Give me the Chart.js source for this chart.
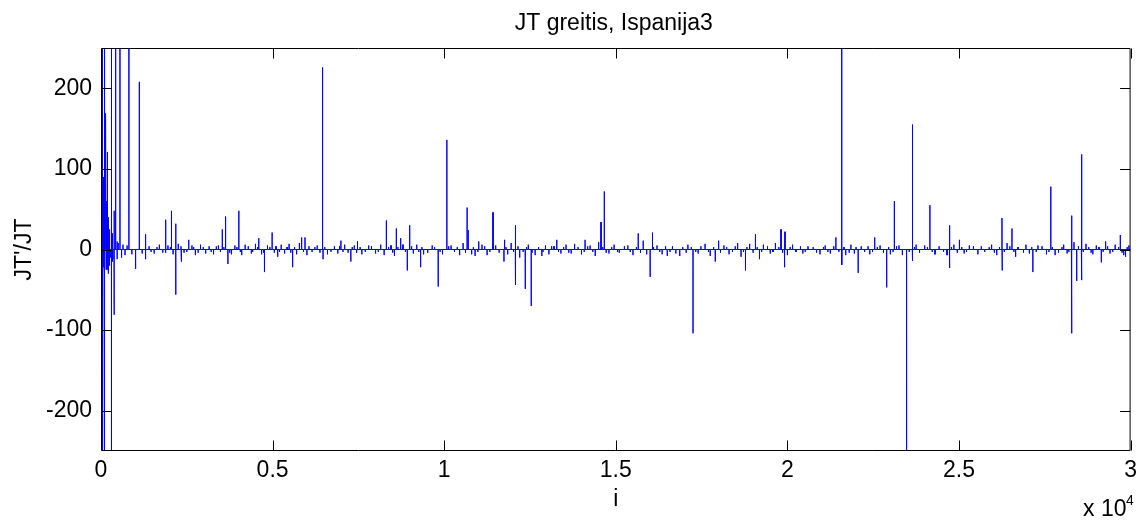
<!DOCTYPE html>
<html>
<head>
<meta charset="utf-8">
<script src="https://cdn.jsdelivr.net/npm/chart.js@4.4.0/dist/chart.umd.min.js"></script>
<style>
  html, body { margin: 0; padding: 0; background: #fff; }
  canvas { display: block; }
</style>
</head>
<body>
<canvas id="chart" width="1143" height="521"></canvas>
<script>
// tick positions (x is in units of i, labels shown as x 10^4)
const xTicks = [0, 5000, 10000, 15000, 20000, 25000, 30000];
const yTicks = [-200, -100, 0, 100, 200];

// main spikes: index i and value JT'/JT
// (values of +-400 run past the axis limits and get clipped, as in the original)
const spikeIdx = [
  0, 15, 30, 40, 41, 55, 80, 95, 107, 108,
  125, 145, 146, 165, 183, 184, 205, 206, 235, 236,
  260, 261, 305, 306, 330, 331, 380, 387, 427, 470,
  471, 500, 552, 600, 640, 700, 760, 813, 900, 1008,
  1112, 1120, 1200, 1298, 1300, 1888, 2053, 2178, 2180, 2343,
  2556, 3534, 3630, 3698, 4016, 4597, 4763, 4986, 5149, 5584,
  5846, 5944, 6456, 6470, 6990, 7280, 7473, 8315, 8605, 8732,
  8925, 8994, 9313, 9825, 10077, 10667, 10700, 10900, 11006, 11422,
  11741, 11760, 12072, 12080, 12362, 12536, 12845, 13280, 14104, 14569,
  14665, 15653, 15798, 16001, 16068, 16500, 16863, 17250, 17898, 17996,
  18779, 19069, 19187, 19814, 19913, 19930, 21412, 21577, 21590, 22062,
  22544, 22893, 23116, 23473, 23639, 23650, 24152, 24722, 24730, 25012,
  26252, 26260, 26543, 27152, 27675, 28276, 28290, 28430, 28566, 28580,
  29147, 29272, 29700, 29853,
  5, 10, 20, 25, 35, 50, 60, 70, 88, 100,
  115, 130, 155, 175, 195, 215, 225, 250, 275, 350
];
const spikeVal = [
  8, -25, 35, 400, -400, -30, 90, -35, 400, -400,
  60, 169, -25, 60, 121, -15, 40, -30, 25, -20,
  15, -12, 400, -400, 20, -15, 48, -81, 400, 10,
  -12, 8, 400, -10, 6, -7, 5, 400, -6, -24,
  208, 102, -5, 19, -12, 37, 48, 32, -56, -15,
  12, 25, 41, -18, 48, 14, -28, 21, -9, -22,
  15, 15, 226, -12, 11, -15, 10, 36, 26, 14,
  -26, 30, -22, -46, 136, 52, 24, -8, 10, 46,
  -15, 12, 30, -44, -49, -70, -8, 12, 12, 34,
  72, 20, 11, -34, 21, -8, -8, -104, -15, 11,
  -26, 19, -12, 25, -22, 22, 15, 400, -19, -29,
  15, -47, 60, -400, 155, -14, 55, 30, -23, 12,
  39, -26, 26, -28, 78, 42, -104, -39, 118, -38,
  -16, 10, 18, -9,
  -20, 30, -35, 45, -28, 70, -22, 55, -30, 80,
  -28, 45, -20, 35, -25, 20, -18, 12, -10, -12
];

// the small jitter along the zero line
const noiseIdx = [
  1400, 1550, 1700, 1800, 1950, 2100, 2250, 2420, 2650, 2750,
  2900, 3050, 3150, 3280, 3420, 3800, 3900, 4100, 4200, 4380,
  4500, 4680, 4850, 5050, 5250, 5350, 5480, 5700, 5780, 6000,
  6300, 6600, 6800, 6900, 7100, 7200, 7380, 7600, 7800, 8000,
  8150, 8250, 8450, 8550, 8800, 9100, 9200, 9400, 9650, 9950,
  10200, 10450, 10550, 10800, 11100, 11250, 11500, 11850, 11950, 12200,
  12450, 12650, 12950, 13050, 13200, 13400, 13550, 13700, 13800, 14000,
  14250, 14400, 14500, 14800, 14950, 15100, 15350, 15500, 15900, 16200,
  16350, 16650, 16750, 17100, 17400, 17600, 17750, 18150, 18300, 18550,
  18650, 18900, 19300, 19500, 19650, 20000, 20150, 20450, 20600, 20950,
  21100, 21250, 21700, 21850, 21950, 22150, 22400, 22700, 23000, 23250,
  23350, 23750, 24000, 24300, 24650, 24850, 25150, 25300, 25550, 25650,
  25950, 26100, 26400, 26650, 26950, 27050, 27300, 27550, 27800, 28050,
  28150, 28350, 28700, 28900, 29000, 29400, 29550, 29800, 29950,
  1460, 1630, 1880, 2020, 2330, 2500, 2700, 2830, 2980, 3210,
  3360, 3480, 3580, 3750, 3960, 4060, 4290, 4420, 4560, 4740,
  4920, 5100, 5200, 5420, 5530, 5640, 5900, 6060, 6150, 6230,
  6380, 6520, 6700, 6950, 7050, 7320, 7450, 7550, 7700, 7880,
  8080, 8380, 8500, 8650, 8870, 9050, 9260, 9350, 9520, 9720,
  9880, 10130, 10300, 10380, 10620, 10850, 10980, 11180, 11330, 11420,
  11600, 11800, 12020, 12150, 12300, 12400, 12560, 12750, 12880, 13130,
  13330, 13480, 13630, 13900, 14080, 14180, 14330, 14620, 14720, 14880,
  15050, 15250, 15420, 15600, 15720, 16100, 16280, 16450, 16580, 16950,
  17050, 17200, 17330, 17480, 17700, 17850, 18050, 18230, 18400, 18480,
  18720, 18820, 19000, 19120, 19250, 19420, 19580, 19750, 19860, 20080,
  20250, 20380, 20520, 20750, 20850, 21050, 21180, 21350, 21500, 21650,
  21800, 22000, 22250, 22350, 22480, 22620, 22800, 22950, 23080, 23180,
  23550, 23700, 23850, 24080, 24220, 24420, 24550, 24780, 24950, 25080,
  25220, 25420, 25750, 25880, 26030, 26180, 26320, 26480, 26600, 26720,
  26880, 27120, 27250, 27420, 27620, 27720, 27900, 28000, 28200, 28480,
  28620, 28780, 28850, 29080, 29200, 29330, 29480, 29650, 29750, 29900
];
const noiseVal = [
  4, -5, 6, -4, 5, -6, 7, -4, 5, -7,
  6, -5, 4, -6, 5, -6, 5, -7, 6, -5,
  7, -6, 5, -4, 6, -5, 7, -6, 8, -7,
  5, -6, 4, -5, 6, -4, 5, -6, 5, -5,
  6, -7, 5, -8, 6, -5, 6, -6, 5, -6,
  5, -7, 8, -6, 6, -7, 5, -6, 8, -10,
  6, -7, 5, -6, 4, -5, 6, -5, 7, -6,
  5, -8, 9, -5, 6, -4, 5, -7, -6, 5,
  -6, 4, -5, 6, -5, 7, -8, 5, -6, 8,
  -9, 7, 6, -5, 8, -7, 6, -5, 4, -6,
  5, -5, -7, 6, -5, 4, -6, 5, -6, 5,
  -7, 6, 5, -6, -7, 6, -5, 5, -6, 4,
  6, -7, 8, -9, 6, -5, 5, -6, -7, 6,
  -5, 9, 7, -6, 5, -5, 6, -7, 5,
  -3, 3, -4, 3, 4, -3, 3, -4, 3, -3,
  4, -3, 3, -4, 3, -3, 4, -3, 3, -4,
  3, 4, -3, 3, -4, 3, -3, 4, -3, 3,
  -4, 3, -3, 4, -3, 3, -4, 3, -3, 4,
  -3, 3, -4, 3, -3, 4, -3, 3, -4, 3,
  -3, 4, -3, 3, -4, 3, -3, 4, -3, 3,
  -4, 3, -3, 4, -3, 3, -4, 3, -3, 4,
  -3, 3, -4, 3, -3, 4, -3, 3, -4, 3,
  -3, 4, -3, 3, -4, 3, -3, 4, -3, 3,
  -4, 3, -3, 4, -3, 3, -4, 3, -3, 4,
  -3, 3, -4, 3, -3, 4, -3, 3, -4, 3,
  -3, 4, -3, 3, -4, 3, -3, 4, -3, 3,
  -4, 3, -3, 4, -3, 3, -4, 3, -3, 4,
  -3, 3, -4, 3, -3, 4, -3, 3, -4, 3,
  -3, 4, -3, 3, -4, 3, -3, 4, -3, 3,
  -4, 3, -3, 4, -3, 3, -4, 3, -3, 4,
  -3, 3, -4, 3, -3, 4, -3, 3, -4, 3
];

// spikes sit on a zero baseline: add a zero on each side of every spike
const spikes = spikeIdx.map((i, k) => [i, spikeVal[k]])
  .concat(noiseIdx.map((i, k) => [i, noiseVal[k]]))
  .sort((a, b) => a[0] - b[0]);
const points = [];
spikes.forEach(([i, v], k) => {
  const prev = k > 0 ? spikes[k - 1][0] : -Infinity;
  const next = k < spikes.length - 1 ? spikes[k + 1][0] : Infinity;
  if (i > 0 && i - prev > 1) points.push({x: i - 1, y: 0});
  points.push({x: i, y: v});
  if (next - i > 1) points.push({x: i + 1, y: 0});
});
points.push({x: 30000, y: 0});

const FONT = '"Liberation Sans", Arial, sans-serif';

// matlab style frame: box, inward ticks on all sides, title and exponent
const matlabFrame = {
  id: 'matlabFrame',
  afterDraw(chart) {
    const {ctx, chartArea: a, scales: {x, y}} = chart;
    const L = a.left + 0.5, R = a.right - 0.5, T = a.top + 0.5, B = a.bottom - 0.5;
    ctx.save();
    ctx.strokeStyle = '#000';
    ctx.lineWidth = 1;
    ctx.beginPath();
    ctx.rect(L, T, R - L, B - T);
    xTicks.forEach(v => {
      const px = Math.round(x.getPixelForValue(v)) + 0.5;
      ctx.moveTo(px, T); ctx.lineTo(px, T + 10);
      ctx.moveTo(px, B); ctx.lineTo(px, B - 10);
    });
    yTicks.forEach(v => {
      const py = Math.round(y.getPixelForValue(v)) + 0.5;
      ctx.moveTo(L, py); ctx.lineTo(L + 10, py);
      ctx.moveTo(R, py); ctx.lineTo(R - 10, py);
    });
    ctx.stroke();

    ctx.fillStyle = '#000';
    ctx.font = '23px ' + FONT;
    ctx.textAlign = 'center';
    ctx.textBaseline = 'middle';
    ctx.fillText('JT greitis, Ispanija3', (a.left + a.right) / 2 - 2, 24);

    ctx.textAlign = 'left';
    ctx.textBaseline = 'alphabetic';
    ctx.fillText('x 10', 1083, 516);
    ctx.font = '14px ' + FONT;
    ctx.fillText('4', 1126, 505);
    ctx.restore();
  }
};

new Chart(document.getElementById('chart'), {
  type: 'scatter',
  data: {
    datasets: [{
      data: points,
      showLine: true,
      borderColor: '#0000ff',
      borderWidth: 1,
      pointRadius: 0,
      tension: 0
    }]
  },
  options: {
    responsive: false,
    animation: false,
    parsing: false,
    layout: { padding: { top: 48, right: 9, left: 0, bottom: 0 } },
    plugins: {
      legend: { display: false },
      tooltip: { enabled: false }
    },
    scales: {
      x: {
        type: 'linear',
        min: 0,
        max: 30000,
        grid: { display: false, drawTicks: false },
        border: { display: false },
        afterBuildTicks: s => { s.ticks = xTicks.map(v => ({value: v})); },
        afterFit: s => { s.height = 70; },
        ticks: {
          padding: 6,
          color: '#000',
          maxRotation: 0,
          font: { family: FONT, size: 23 },
          callback: v => String(v / 10000)
        },
        title: {
          display: true,
          text: 'i',
          color: '#000',
          font: { family: FONT, size: 23 },
          padding: { top: 0, bottom: 8 }
        }
      },
      y: {
        min: -250,
        max: 250,
        grid: { display: false, drawTicks: false },
        border: { display: false },
        afterBuildTicks: s => { s.ticks = yTicks.map(v => ({value: v})); },
        afterFit: s => { s.width = 101; },
        ticks: {
          padding: 9,
          color: '#000',
          font: { family: FONT, size: 23 }
        },
        title: {
          display: true,
          text: "JT'/JT",
          color: '#000',
          font: { family: FONT, size: 23 },
          padding: { top: 11, bottom: 0 }
        }
      }
    }
  },
  plugins: [matlabFrame]
});
</script>
</body>
</html>
